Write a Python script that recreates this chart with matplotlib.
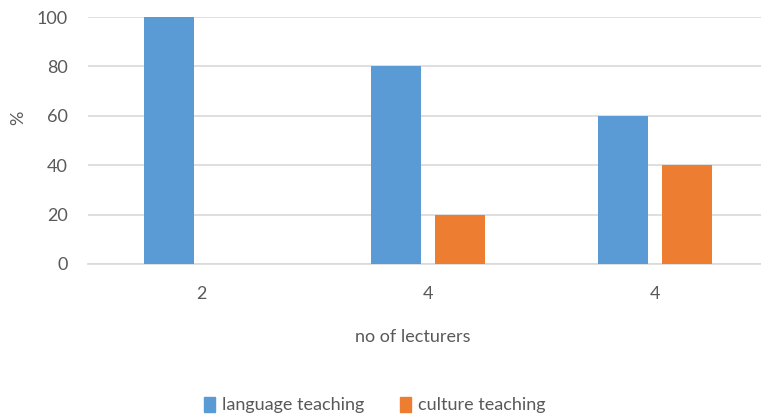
import matplotlib
matplotlib.use("Agg")
import matplotlib.pyplot as plt
import numpy as np
from matplotlib.patches import Patch

categories = ["2", "4", "4"]
language_teaching = [100, 80, 60]
culture_teaching = [0, 20, 40]
series_names = ["language teaching", "culture teaching"]
colors = ["#5B9BD5", "#ED7D31"]
y_ticks = [0, 20, 40, 60, 80, 100]

plt.rcParams['font.family'] = ['Lato', 'DejaVu Sans']
text_color = "#595959"

fig = plt.figure(figsize=(7.61, 4.17), dpi=100)
ax = fig.add_axes([87.5/761, 1-264/417, 681/761, 247/417])

x = np.arange(len(categories))
w = 0.22
off = 0.143
ax.bar(x - off, language_teaching, w, color=colors[0], zorder=3)
ax.bar(x + off, culture_teaching, w, color=colors[1], zorder=3)

ax.set_xlim(-0.5, len(categories) - 0.5)
ax.set_ylim(0, 100)
ax.set_yticks(y_ticks)
ax.set_xticks(x)
ax.set_xticklabels(categories)
ax.yaxis.grid(True, color="#D9D9D9", linewidth=1.2, zorder=0)
ax.set_axisbelow(True)
for s in ["top", "right", "left"]:
    ax.spines[s].set_visible(False)
ax.spines["bottom"].set_color("#D9D9D9")
ax.spines["bottom"].set_linewidth(1.2)
ax.tick_params(axis="both", length=0, labelsize=13, colors=text_color)
ax.tick_params(axis="y", pad=14)
ax.tick_params(axis="x", pad=16)

fig.text(18/761, 1-118/417, "%", rotation=90, ha="center", va="center",
         fontsize=13, color=text_color)
fig.text(413/761, 1-337/417, "no of lecturers", ha="center", va="center",
         fontsize=13, color=text_color)

handles = [Patch(color=c) for c in colors]
fig.legend(handles, series_names, loc="center", bbox_to_anchor=(375/761, 1-405/417),
           ncol=2, frameon=False, fontsize=13, labelcolor=text_color,
           handlelength=0.6, handleheight=0.9, handletextpad=0.4, columnspacing=2.0)

fig.savefig("out.png", dpi=100)
